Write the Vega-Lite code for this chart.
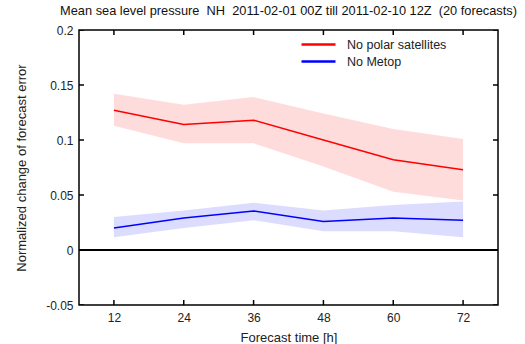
{
  "$schema": "https://vega.github.io/schema/vega-lite/v6.json",
  "width": 419,
  "height": 275,
  "autosize": "none",
  "padding": {"left": 79, "top": 30, "right": 27, "bottom": 39},
  "background": "white",
  "title": {
    "text": "Mean sea level pressure\u00a0\u00a0NH\u00a0\u00a02011-02-01 00Z till 2011-02-10 12Z\u00a0\u00a0(20 forecasts)",
    "fontSize": 12.8,
    "fontWeight": "normal",
    "font": "Liberation Sans",
    "color": "#111",
    "anchor": "middle",
    "offset": 6
  },
  "config": {
    "font": "Liberation Sans",
    "view": {"stroke": "black", "strokeWidth": 1.5},
    "axis": {
      "domain": false,
      "ticks": false,
      "tickSize": 0,
      "grid": false,
      "labelFontSize": 12,
      "labelColor": "#222",
      "titleFontSize": 13,
      "titleFontWeight": "normal",
      "titleColor": "#222"
    }
  },
  "datasets": {
    "xticks": [{"hour": 12}, {"hour": 24}, {"hour": 36}, {"hour": 48}, {"hour": 60}, {"hour": 72}],
    "yticks": [{"level": -0.05}, {"level": 0}, {"level": 0.05}, {"level": 0.1}, {"level": 0.15}, {"level": 0.2}]
  },
  "data": {
    "values": [
      {"series": "No polar satellites", "hour": 12, "value": 0.127, "lo": 0.113, "hi": 0.142},
      {"series": "No polar satellites", "hour": 24, "value": 0.114, "lo": 0.097, "hi": 0.132},
      {"series": "No polar satellites", "hour": 36, "value": 0.118, "lo": 0.097, "hi": 0.139},
      {"series": "No polar satellites", "hour": 48, "value": 0.100, "lo": 0.076, "hi": 0.124},
      {"series": "No polar satellites", "hour": 60, "value": 0.082, "lo": 0.053, "hi": 0.110},
      {"series": "No polar satellites", "hour": 72, "value": 0.073, "lo": 0.045, "hi": 0.101},
      {"series": "No Metop", "hour": 12, "value": 0.020, "lo": 0.0115, "hi": 0.030},
      {"series": "No Metop", "hour": 24, "value": 0.029, "lo": 0.020, "hi": 0.036},
      {"series": "No Metop", "hour": 36, "value": 0.0355, "lo": 0.027, "hi": 0.043},
      {"series": "No Metop", "hour": 48, "value": 0.026, "lo": 0.017, "hi": 0.036},
      {"series": "No Metop", "hour": 60, "value": 0.029, "lo": 0.017, "hi": 0.041},
      {"series": "No Metop", "hour": 72, "value": 0.027, "lo": 0.0115, "hi": 0.044}
    ]
  },
  "layer": [
    {
      "mark": {"type": "area", "opacity": 1},
      "encoding": {
        "x": {
          "field": "hour", "type": "quantitative",
          "scale": {"domain": [6, 78], "nice": false, "zero": false},
          "axis": {
            "values": [12, 24, 36, 48, 60, 72],
            "title": "Forecast time [h]",
            "labelPadding": 7,
            "titlePadding": 8
          }
        },
        "y": {
          "field": "lo", "type": "quantitative",
          "scale": {"domain": [-0.05, 0.2], "nice": false, "zero": false},
          "axis": {
            "values": [-0.05, 0, 0.05, 0.1, 0.15, 0.2],
            "labelExpr": "'' + round(datum.value * 100) / 100",
            "labelPadding": 6,
            "title": "Normalized change of forecast error",
            "titlePadding": 17
          }
        },
        "y2": {"field": "hi"},
        "fill": {
          "field": "series", "type": "nominal",
          "scale": {"range": ["#dcdcff", "#ffdcdc"]},
          "legend": null
        },
        "detail": {"field": "series"}
      }
    },
    {
      "mark": {"type": "line", "strokeWidth": 1.5},
      "encoding": {
        "x": {"field": "hour", "type": "quantitative"},
        "y": {"field": "value", "type": "quantitative"},
        "stroke": {
          "field": "series", "type": "nominal",
          "scale": {"domain": ["No polar satellites", "No Metop"], "range": ["#ff0000", "#0000ff"]},
          "legend": {
            "title": null,
            "orient": "none",
            "legendX": 221,
            "legendY": 7,
            "padding": 0,
            "symbolType": "stroke",
            "symbolSize": 1156,
            "symbolStrokeWidth": 2.5,
            "clipHeight": 15,
            "rowPadding": 2,
            "labelOffset": 10,
            "labelFontSize": 12.5,
            "labelColor": "#222"
          }
        }
      }
    },
    {
      "mark": {"type": "rule", "color": "black", "strokeWidth": 1.5},
      "encoding": {
        "y": {"datum": 0, "type": "quantitative"}
      }
    },
    {
      "data": {"name": "xticks"},
      "mark": {"type": "tick", "orient": "vertical", "clip": true, "size": 10, "thickness": 1.5, "color": "black", "opacity": 1},
      "encoding": {
        "x": {"field": "hour", "type": "quantitative", "axis": {"title": "Forecast time [h]"}},
        "y": {"datum": 0.2, "type": "quantitative"}
      }
    },
    {
      "data": {"name": "xticks"},
      "mark": {"type": "tick", "orient": "vertical", "clip": true, "size": 10, "thickness": 1.5, "color": "black", "opacity": 1},
      "encoding": {
        "x": {"field": "hour", "type": "quantitative", "axis": {"title": "Forecast time [h]"}},
        "y": {"datum": -0.05, "type": "quantitative"}
      }
    },
    {
      "data": {"name": "yticks"},
      "mark": {"type": "tick", "orient": "horizontal", "clip": true, "size": 10, "thickness": 1.5, "color": "black", "opacity": 1},
      "encoding": {
        "y": {"field": "level", "type": "quantitative", "axis": {"title": "Normalized change of forecast error"}},
        "x": {"datum": 6, "type": "quantitative"}
      }
    },
    {
      "data": {"name": "yticks"},
      "mark": {"type": "tick", "orient": "horizontal", "clip": true, "size": 10, "thickness": 1.5, "color": "black", "opacity": 1},
      "encoding": {
        "y": {"field": "level", "type": "quantitative", "axis": {"title": "Normalized change of forecast error"}},
        "x": {"datum": 78, "type": "quantitative"}
      }
    }
  ]
}
